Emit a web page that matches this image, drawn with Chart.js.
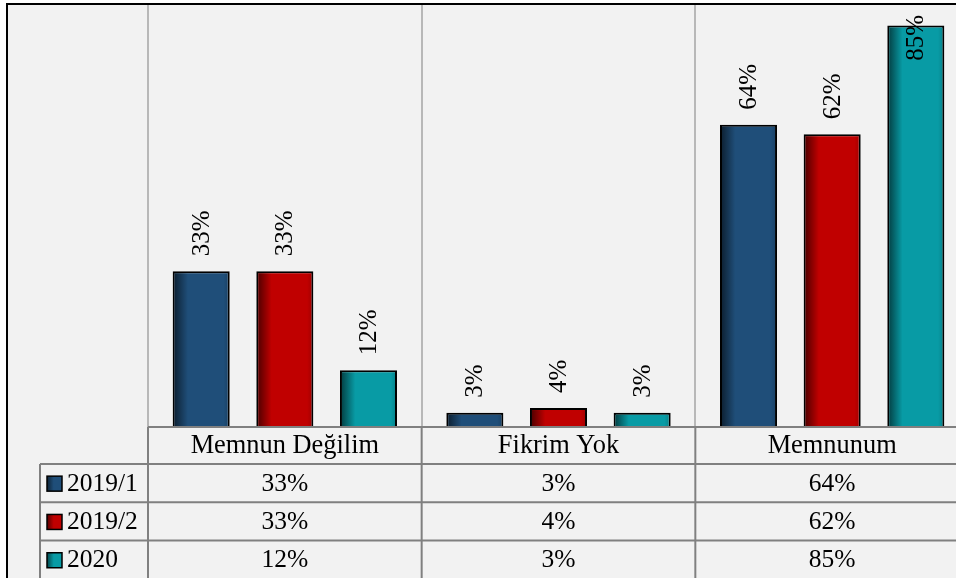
<!DOCTYPE html>
<html>
<head>
<meta charset="utf-8">
<script src="https://cdn.jsdelivr.net/npm/chart.js@4/dist/chart.umd.min.js"></script>
<style>
  html, body { margin: 0; padding: 0; background: #ffffff; overflow: hidden; }
  #wrap { position: absolute; left: 0; top: 0; width: 980px; height: 578px; }
</style>
</head>
<body>
<div id="wrap"><canvas id="c" width="980" height="578"></canvas></div>
<script>
const categories = ['Memnun Değilim', 'Fikrim Yok', 'Memnunum'];
const seriesLabels = ['2019/1', '2019/2', '2020'];
const values2019_1 = [33, 3, 64];
const values2019_2 = [33, 4, 62];
const values2020 = [12, 3, 85];
const seriesColors = ['#1f4e79', '#c00000', '#089ba5'];
const seriesValues = [values2019_1, values2019_2, values2020];

const FAMILY = '"Liberation Serif", "Times New Roman", serif';
const LABEL_FONT = '25px ' + FAMILY;
const HEAD_FONT = '26.4px ' + FAMILY;
const CELL_FONT = '25.5px ' + FAMILY;
const TABLE_LINE = '#808080';

const bgPlugin = {
  id: 'bg',
  beforeDraw(chart) {
    const ctx = chart.ctx;
    ctx.save();
    ctx.fillStyle = '#ffffff';
    ctx.fillRect(0, 0, chart.width, chart.height);
    ctx.fillStyle = '#f2f2f2';
    ctx.fillRect(7, 4, chart.width, chart.height);
    ctx.restore();
  }
};

const shadePlugin = {
  id: 'shade',
  afterDatasetsDraw(chart) {
    const ctx = chart.ctx;
    ctx.save();
    chart.data.datasets.forEach((ds, di) => {
      const meta = chart.getDatasetMeta(di);
      meta.data.forEach((el) => {
        const p = el.getProps(['x', 'y', 'base', 'width'], true);
        const l = p.x - p.width / 2 + 2, r = p.x + p.width / 2 - 2;
        const g = ctx.createLinearGradient(l, 0, r, 0);
        g.addColorStop(0, 'rgba(0,0,0,0.55)');
        g.addColorStop(0.25, 'rgba(0,0,0,0)');
        g.addColorStop(0.92, 'rgba(0,0,0,0)');
        g.addColorStop(1, 'rgba(0,0,0,0.12)');
        ctx.fillStyle = g;
        ctx.fillRect(l, p.y + 2, r - l, p.base - p.y - 2);
      });
    });
    ctx.restore();
  }
};

const labelPlugin = {
  id: 'labels',
  afterDatasetsDraw(chart) {
    const ctx = chart.ctx;
    ctx.save();
    ctx.font = LABEL_FONT;
    ctx.fillStyle = '#000000';
    ctx.textAlign = 'left';
    ctx.textBaseline = 'middle';
    chart.data.datasets.forEach((ds, di) => {
      const meta = chart.getDatasetMeta(di);
      meta.data.forEach((el, i) => {
        const p = el.getProps(['x', 'y'], true);
        const txt = ds.data[i] + '%';
        const w = ctx.measureText(txt).width;
        const yb = Math.max(p.y - 15, 15 + w);
        ctx.save();
        ctx.translate(p.x + 1, yb);
        ctx.rotate(-Math.PI / 2);
        ctx.fillText(txt, 0, 0);
        ctx.restore();
      });
    });
    ctx.restore();
  }
};

const tablePlugin = {
  id: 'table',
  afterDraw(chart) {
    const ctx = chart.ctx;
    const x = chart.scales.x;
    const area = chart.chartArea;
    const cw = x.getPixelForValue(1) - x.getPixelForValue(0);
    const bounds = [];
    for (let i = 0; i <= categories.length; i++) bounds.push(x.getPixelForValue(0) - cw / 2 + i * cw);
    const top = area.bottom;
    const headH = 37, rowH = 38.3;
    const legendLeft = 40;
    const right = chart.width;
    const rowTops = [top + headH];
    for (let i = 1; i <= seriesLabels.length; i++) rowTops.push(top + headH + i * rowH);

    ctx.save();
    ctx.strokeStyle = TABLE_LINE;
    ctx.lineWidth = 2;
    ctx.beginPath();
    ctx.moveTo(bounds[0], top); ctx.lineTo(right, top);
    rowTops.forEach(y => { ctx.moveTo(legendLeft, y); ctx.lineTo(right, y); });
    bounds.forEach(bx => { ctx.moveTo(bx, top); ctx.lineTo(bx, chart.height); });
    ctx.moveTo(legendLeft, rowTops[0]); ctx.lineTo(legendLeft, chart.height);
    ctx.stroke();

    ctx.fillStyle = '#000000';
    ctx.textAlign = 'center';
    ctx.textBaseline = 'middle';
    ctx.font = HEAD_FONT;
    categories.forEach((c, i) => {
      ctx.fillText(c, (bounds[i] + bounds[i + 1]) / 2, top + headH / 2 + 1);
    });
    ctx.font = CELL_FONT;
    seriesValues.forEach((vals, si) => {
      const cy = rowTops[si] + rowH / 2 + 1;
      ctx.fillStyle = '#000000';
      vals.forEach((v, ci) => {
        ctx.fillText(v + '%', (bounds[ci] + bounds[ci + 1]) / 2, cy);
      });
      const mx = 47, my = cy - 8, ms = 15;
      ctx.fillStyle = seriesColors[si];
      ctx.fillRect(mx, my, ms, ms);
      const g = ctx.createLinearGradient(mx, 0, mx + ms, 0);
      g.addColorStop(0, 'rgba(0,0,0,0.55)');
      g.addColorStop(0.45, 'rgba(0,0,0,0)');
      g.addColorStop(1, 'rgba(0,0,0,0)');
      ctx.fillStyle = g;
      ctx.fillRect(mx, my, ms, ms);
      ctx.strokeStyle = '#000000';
      ctx.lineWidth = 1.5;
      ctx.strokeRect(mx, my, ms, ms);
      ctx.fillStyle = '#000000';
      ctx.textAlign = 'left';
      ctx.fillText(seriesLabels[si], 67, cy);
      ctx.textAlign = 'center';
    });

    ctx.fillStyle = '#ffffff';
    ctx.fillRect(0, 0, chart.width, 3);
    ctx.fillRect(0, 0, 6, chart.height);
    ctx.fillStyle = '#000000';
    ctx.fillRect(6, 3, chart.width, 2);
    ctx.fillRect(6, 3, 2, chart.height);
    ctx.restore();
  }
};

new Chart(document.getElementById('c'), {
  type: 'bar',
  data: {
    labels: categories,
    datasets: seriesLabels.map((lbl, i) => ({
      label: lbl,
      data: seriesValues[i],
      backgroundColor: seriesColors[i],
      borderColor: '#000000',
      borderWidth: 2,
      barPercentage: 0.682,
      categoryPercentage: 0.917
    }))
  },
  options: {
    responsive: false,
    devicePixelRatio: 1,
    animation: false,
    layout: { padding: { left: 148, right: 11, top: 2, bottom: 151 } },
    plugins: { legend: { display: false }, tooltip: { enabled: false }, title: { display: false } },
    scales: {
      x: {
        display: true,
        ticks: { display: false },
        grid: { offset: true, color: '#b8b8b8', lineWidth: 2, drawTicks: false },
        border: { display: false }
      },
      y: { display: false, min: 0, max: 90 }
    }
  },
  plugins: [bgPlugin, shadePlugin, labelPlugin, tablePlugin]
});
</script>
</body>
</html>
